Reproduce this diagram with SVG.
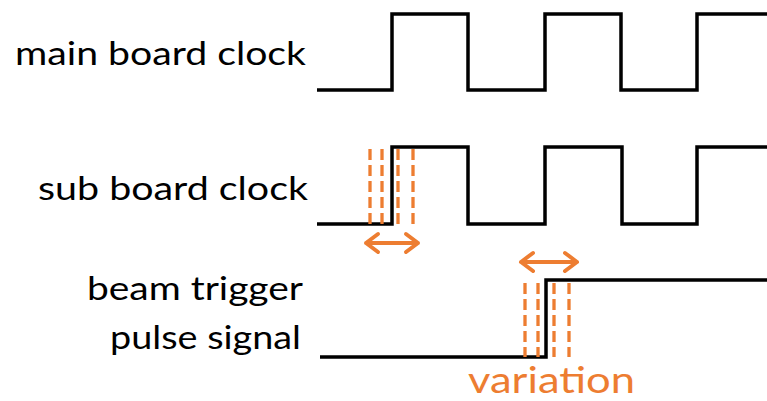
<svg xmlns="http://www.w3.org/2000/svg" width="767" height="401" viewBox="0 0 767 401">
<style>
.lbl{font-family:Lato,"Open Sans","Liberation Sans",sans-serif;font-size:33px;fill:#000}
.sig{fill:none;stroke:#000;stroke-width:3.5;stroke-linejoin:miter}
.dash{fill:none;stroke:#ED7D31;stroke-width:3.3;stroke-dasharray:11 5}
.arr{fill:none;stroke:#ED7D31;stroke-width:4;stroke-linecap:round;stroke-linejoin:round}
.var{font-family:Lato,"Open Sans","Liberation Sans",sans-serif;font-size:36px;fill:#ED7D31}
</style>
<rect width="767" height="401" fill="#fff"/>
<g id="labels">
<text class="lbl" x="15" y="65" textLength="291" lengthAdjust="spacingAndGlyphs">main board clock</text>
<text class="lbl" x="38" y="200" textLength="270" lengthAdjust="spacingAndGlyphs">sub board clock</text>
<text class="lbl" x="87" y="300" textLength="216" lengthAdjust="spacingAndGlyphs">beam trigger</text>
<text class="lbl" x="110" y="349" textLength="191" lengthAdjust="spacingAndGlyphs">pulse signal</text>
</g>
<g id="main-clock">
<path class="sig" d="M317 90 H392 V14 H468 V90 H545 V14 H621 V90 H697 V14 H767"/>
</g>
<g id="sub-clock">
<path class="sig" d="M317 224 H392 V147 H468 V224 H545 V147 H622 V224 H697 V147 H767"/>
</g>
<g id="beam-trigger">
<path class="sig" d="M320 357 H546 V280 H767"/>
</g>
<g id="variation-sub">
<path class="dash" d="M370 149 V224 M382 149 V224 M398 149 V224 M413 149 V224"/>
<path class="arr" d="M366 243 H418 M378 234 L366 243 L378 252 M406 234 L418 243 L406 252"/>
</g>
<g id="variation-beam">
<path class="dash" d="M525 283 V357 M538 283 V357 M554 283 V357 M569 283 V357"/>
<path class="arr" d="M521 262 H577 M533 253 L521 262 L533 271 M565 253 L577 262 L565 271"/>
<text class="var" x="468" y="393" textLength="167" lengthAdjust="spacingAndGlyphs">variation</text>
</g>
</svg>
